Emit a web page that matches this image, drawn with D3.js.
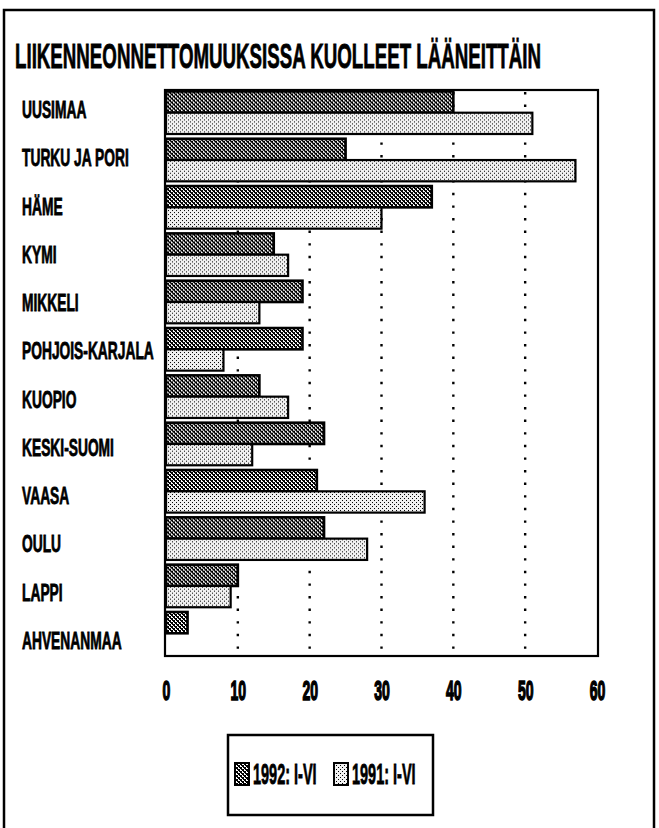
<!DOCTYPE html>
<html>
<head>
<meta charset="utf-8">
<script src="https://cdn.jsdelivr.net/npm/d3@7"></script>
<style>
  html, body { margin: 0; padding: 0; background: #fff; }
  svg { display: block; }
  text { font-family: "Liberation Sans", Arial, "DejaVu Sans", sans-serif; font-weight: bold; fill: #000; }
</style>
</head>
<body>
<script>
const title = "LIIKENNEONNETTOMUUKSISSA KUOLLEET LÄÄNEITTÄIN";
const categories = ["UUSIMAA", "TURKU JA PORI", "HÄME", "KYMI", "MIKKELI", "POHJOIS-KARJALA",
  "KUOPIO", "KESKI-SUOMI", "VAASA", "OULU", "LAPPI", "AHVENANMAA"];
const values1992 = [40, 25, 37, 15, 19, 19, 13, 22, 21, 22, 10, 3];
const values1991 = [51, 57, 30, 17, 13, 8, 17, 12, 36, 28, 9, 0];
const seriesKeys = ["1992", "1991"];
const seriesNames = ["1992: I-VI", "1991: I-VI"];
const xTicks = [0, 10, 20, 30, 40, 50, 60];
const gridTicks = [10, 20, 30, 40, 50];

const W = 659, H = 828;
const svg = d3.select("body").append("svg").attr("width", W).attr("height", H);

// patterns
const defs = svg.append("defs");
const pDark = defs.append("pattern").attr("id", "pDark").attr("patternUnits", "userSpaceOnUse")
  .attr("width", 4).attr("height", 4);
pDark.append("rect").attr("width", 4).attr("height", 4).attr("fill", "#fff");
[[0,0],[1,0],[1,1],[2,1],[2,2],[3,2],[3,3],[0,3],[2,0],[0,2]].forEach(([a,b]) =>
  pDark.append("rect").attr("x", a).attr("y", b).attr("width", 1).attr("height", 1).attr("fill", "#000"));
const pLight = defs.append("pattern").attr("id", "pLight").attr("patternUnits", "userSpaceOnUse")
  .attr("width", 4).attr("height", 4);
pLight.append("rect").attr("width", 4).attr("height", 4).attr("fill", "#f0f0f0");
[[0,0],[2,2]].forEach(([a,b]) =>
  pLight.append("rect").attr("x", a).attr("y", b).attr("width", 1).attr("height", 1).attr("fill", "#000"));
const fills = { "1992": "url(#pDark)", "1991": "url(#pLight)" };

// outer frame
svg.append("rect").attr("x", 4).attr("y", 10).attr("width", 650).attr("height", 840)
  .attr("fill", "none").attr("stroke", "#000").attr("stroke-width", 2.5);

// title
svg.append("text").attr("transform", "translate(15,68) scale(0.535,1)")
  .attr("font-size", 35).attr("stroke", "#000").attr("stroke-width", 0.8)
  .text(title);

// scales
const x = d3.scaleLinear().domain([0, 60]).range([166, 597]);
const y = d3.scaleBand().domain(categories).range([90, 656]).paddingInner(0.1).paddingOuter(0.03);
const ySub = d3.scaleBand().domain(seriesKeys).range([0, y.bandwidth()]);
const yLabel = d3.scalePoint().domain(categories).range([110, 641]);

// gridlines
svg.append("g").selectAll("line").data(gridTicks).join("line")
  .attr("x1", d => x(d)).attr("x2", d => x(d))
  .attr("y1", 92).attr("y2", 656)
  .attr("stroke", "#000").attr("stroke-width", 2.4)
  .attr("stroke-dasharray", "2.4,10.2");

// bars
const rows = categories.map((c, i) => ({ c, v: { "1992": values1992[i], "1991": values1991[i] } }));
const groups = svg.append("g").selectAll("g").data(rows).join("g")
  .attr("transform", d => `translate(0,${y(d.c)})`);
groups.selectAll("rect")
  .data(d => seriesKeys.filter(k => d.v[k] > 0).map(k => ({ k, v: d.v[k] })))
  .join("rect")
  .attr("x", x(0))
  .attr("y", d => ySub(d.k))
  .attr("width", d => x(d.v) - x(0))
  .attr("height", ySub.bandwidth())
  .attr("fill", d => fills[d.k])
  .attr("stroke", "#000")
  .attr("stroke-width", d => d.k === "1992" ? 2.6 : 2.2);

// plot frame
svg.append("rect").attr("x", 165).attr("y", 90).attr("width", 433).attr("height", 566)
  .attr("fill", "none").attr("stroke", "#000").attr("stroke-width", 2.2);

// category labels
svg.append("g").selectAll("text").data(categories).join("text")
  .attr("transform", d => `translate(22,${yLabel(d) + 8}) scale(0.6,1)`)
  .attr("font-size", 23).attr("stroke", "#000").attr("stroke-width", 0.8)
  .text(d => d);

// x axis
const xAxis = svg.append("g").attr("transform", "translate(0,680)")
  .call(d3.axisBottom(x).tickValues(xTicks).tickSize(0).tickFormat(d3.format("d")));
xAxis.select(".domain").remove();
xAxis.selectAll("text")
  .attr("y", 0).attr("dy", "0.72em")
  .attr("font-size", 28)
  .attr("font-family", "'Liberation Sans', Arial, sans-serif")
  .attr("font-weight", "bold")
  .attr("stroke", "#000").attr("stroke-width", 1.6)
  .attr("transform", "scale(0.5,1)");

// legend
const lg = svg.append("g");
lg.append("rect").attr("x", 228).attr("y", 735).attr("width", 205).attr("height", 80)
  .attr("fill", "#fff").attr("stroke", "#000").attr("stroke-width", 2.5);
const legendItems = seriesKeys.map((k, i) => ({ k, name: seriesNames[i] }));
const lx = d3.scalePoint().domain(seriesKeys).range([235, 334]);
const li = lg.selectAll("g.item").data(legendItems).join("g").attr("class", "item")
  .attr("transform", d => `translate(${lx(d.k)},763)`);
li.append("rect").attr("x", 0).attr("y", 0).attr("width", 14).attr("height", 22)
  .attr("fill", d => fills[d.k]).attr("stroke", "#000").attr("stroke-width", 2);
li.append("text").attr("transform", "translate(18,21) scale(0.5,1)")
  .attr("font-size", 29).attr("stroke", "#000").attr("stroke-width", 0.8)
  .text(d => d.name);
</script>
</body>
</html>
